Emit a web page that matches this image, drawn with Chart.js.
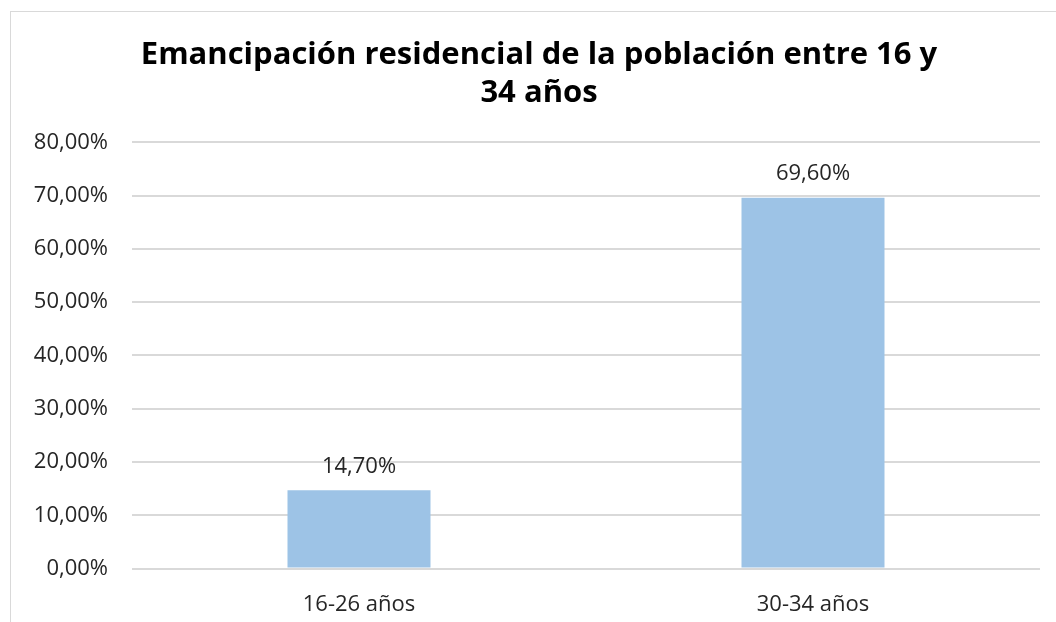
<!DOCTYPE html>
<html>
<head>
<meta charset="utf-8">
<script src="https://cdn.jsdelivr.net/npm/chart.js@4"></script>
<style>
  html, body { margin: 0; padding: 0; background: #fff; overflow: hidden; }
  #box {
    position: absolute; left: 10px; top: 11px;
    width: 1056px; height: 622px;
    border-top: 1px solid #d9d9d9; border-left: 1px solid #d9d9d9;
  }
</style>
</head>
<body>
<div id="box"><canvas id="chart"></canvas></div>
<script>
// data
const categories = ['16-26 años', '30-34 años'];
const values = [14.7, 69.6];
const yTicks = [0, 10, 20, 30, 40, 50, 60, 70, 80];

const FONT = '"Open Sans", Lato, sans-serif';
const fmt = v => v.toFixed(2).replace('.', ',') + '%';

// draw value labels above bars
const barLabels = {
    id: 'barLabels',
    afterDatasetsDraw(chart) {
        const ctx = chart.ctx;
        const meta = chart.getDatasetMeta(0);
        ctx.save();
        ctx.font = '22px ' + FONT;
        ctx.fillStyle = '#262626';
        ctx.textAlign = 'center';
        ctx.textBaseline = 'middle';
        meta.data.forEach((bar, i) => {
            ctx.fillText(fmt(values[i]), bar.x, bar.y - 24);
        });
        ctx.restore();
    }
};

const ctx = document.getElementById('chart').getContext('2d');
new Chart(ctx, {
    type: 'bar',
    data: {
        labels: categories,
        datasets: [{
            data: values,
            backgroundColor: '#9dc3e6',
            barPercentage: 0.63,
            categoryPercentage: 0.5
        }]
    },
    options: {
        responsive: true,
        maintainAspectRatio: false,
        animation: false,
        layout: { padding: { left: 0, right: 0, top: 16, bottom: 1 } },
        plugins: {
            legend: { display: false },
            tooltip: { enabled: false },
            title: {
                display: true,
                text: ['Emancipación residencial de la población entre 16 y', '34 años'],
                color: '#000',
                font: { family: FONT, size: 31, weight: 'bold', lineHeight: 1.23 },
                padding: { top: 8, bottom: 30 }
            }
        },
        scales: {
            x: {
                grid: { display: false },
                border: { display: false },
                ticks: { color: '#262626', font: { family: FONT, size: 22 }, padding: 15 }
            },
            y: {
                min: 0,
                max: 80,
                afterFit: axis => { axis.width = 121; },
                afterBuildTicks: axis => { axis.ticks = yTicks.map(v => ({ value: v })); },
                grid: { color: '#d9d9d9', lineWidth: 2, drawTicks: false },
                border: { display: false },
                ticks: {
                    color: '#262626',
                    font: { family: FONT, size: 22 },
                    padding: 24,
                    callback: v => fmt(v)
                }
            },
            // empty right axis, only reserves the right margin
            yRight: {
                position: 'right',
                min: 0,
                max: 80,
                afterFit: axis => { axis.width = 27; },
                grid: { display: false },
                border: { display: false },
                ticks: { display: false }
            }
        }
    },
    plugins: [barLabels]
});
</script>
</body>
</html>
